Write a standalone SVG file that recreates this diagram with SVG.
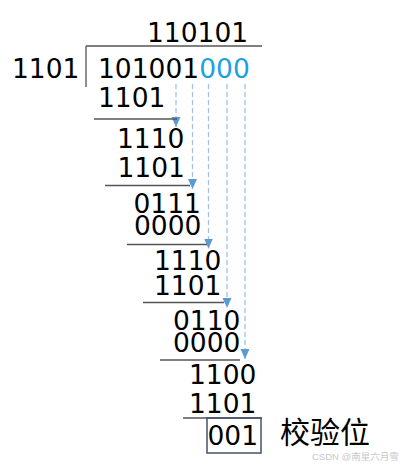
<svg xmlns="http://www.w3.org/2000/svg" width="402" height="467" viewBox="0 0 402 467">
<style>
.d{font-family:"DejaVu Sans",sans-serif;font-size:26.5px;fill:#000}
.b{fill:#1ba1e2}
.r{stroke:#555;stroke-width:1.3;fill:none}
.a{stroke:#9dc3e6;stroke-width:1.3;stroke-dasharray:5 3;fill:none;marker-end:url(#ah)}
</style>
<defs>
<marker id="ah" markerUnits="userSpaceOnUse" markerWidth="10" markerHeight="10" viewBox="0 0 10 10" refX="5" refY="10" orient="0">
<path d="M0.5,0 L9.5,0 L5,10 Z" fill="#5b9bd5"/>
</marker>
</defs>
<rect width="402" height="467" fill="#fff"/>
<g id="connectors">
<path class="a" d="M176,84 V127"/>
<path class="a" d="M192.5,84 V189"/>
<path class="a" d="M208.5,84 V248.5"/>
<path class="a" d="M227,84 V308"/>
<path class="a" d="M245,84 V359"/>
</g>
<g id="rules">
<path class="r" d="M86,46 H262 M86,46 V87"/>
<path class="r" d="M94,119 H177"/>
<path class="r" d="M105,185.5 H190"/>
<path class="r" d="M127,244.5 H207"/>
<path class="r" d="M143,302.5 H224"/>
<path class="r" d="M160,360 H240"/>
<path class="r" d="M183,418 H262"/>
</g>
<g id="quotient"><text class="d" x="147" y="42">110101</text></g>
<g id="divisor"><text class="d" x="12" y="78">1101</text></g>
<g id="dividend"><text class="d" x="98" y="78">101001<tspan class="b">000</tspan></text></g>
<g id="step1">
<text class="d" x="98" y="107">1101</text>
<text class="d" x="117" y="148">1110</text>
<text class="d" x="117.5" y="177">1101</text>
</g>
<g id="step2">
<text class="d" x="133.5" y="213">0111</text>
<text class="d" x="134" y="235">0000</text>
</g>
<g id="step3">
<text class="d" x="154" y="270">1110</text>
<text class="d" x="154" y="295">1101</text>
</g>
<g id="step4">
<text class="d" x="173" y="330">0110</text>
<text class="d" x="173" y="352">0000</text>
</g>
<g id="step5">
<text class="d" x="189" y="384">1100</text>
<text class="d" x="189" y="413">1101</text>
</g>
<g id="remainder">
<rect x="207" y="418" width="54" height="35" fill="none" stroke="#44546a" stroke-width="1.5"/>
<text class="d" x="207.5" y="445">001</text>
</g>
<g id="label">
<text x="280" y="443" font-family="'Noto Sans CJK SC',sans-serif" font-size="30" fill="#000">校验位</text>
</g>
<text x="312" y="460" font-family="'Liberation Sans','Noto Sans CJK SC',sans-serif" font-size="9.5" fill="#c8c8c8">CSDN @南星六月雪</text>
</svg>
